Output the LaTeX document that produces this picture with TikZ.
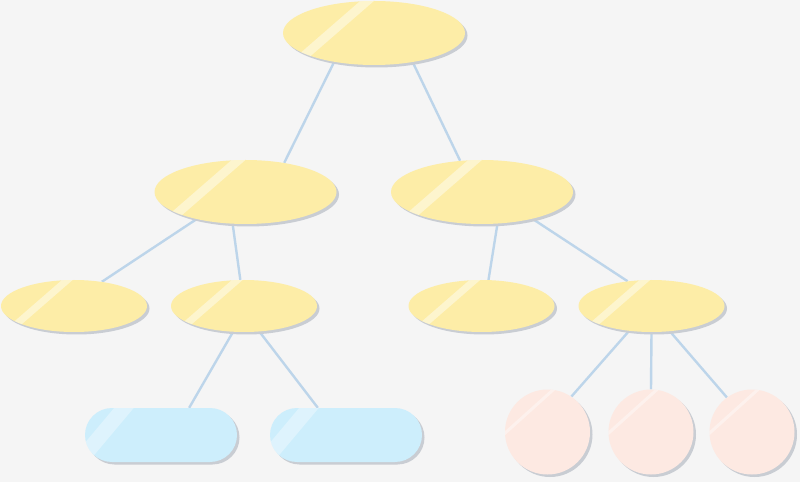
\documentclass[tikz,border=0pt]{standalone}
\usepackage[dvipsnames]{xcolor}
\usetikzlibrary{shapes.geometric, shadows, backgrounds}

\definecolor{bggray}{HTML}{F5F5F5}
\definecolor{nodeyellow}{HTML}{FDEDA7}
\definecolor{nodeblue}{HTML}{CDEEFC}
\definecolor{nodepink}{HTML}{FDE9E2}
\definecolor{linkblue}{HTML}{BDD5EA}
\definecolor{shadowgray}{HTML}{C9CDD3}

% glossy band: x offset, y offset, half width, angle, opacity
\newcommand{\glossband}[5]{%
  \fill[white, opacity=#5] (path picture bounding box.center) ++(#1pt,#2pt)
    ++(#4+90:#3pt) ++(#4:-150pt) -- ++(#4:300pt) -- ++(#4-90:2*#3pt)
    -- ++(#4:-300pt) -- cycle;}

\tikzset{
  blob/.style={draw=none, inner sep=0pt,
    drop shadow={shadow xshift=2.5pt, shadow yshift=-2.5pt, fill=shadowgray, opacity=1}},
  bigoval/.style={blob, ellipse, fill=nodeyellow, minimum width=182pt, minimum height=64pt,
    path picture={\glossband{-38}{5}{4.5}{41}{0.45}}},
  smalloval/.style={blob, ellipse, fill=nodeyellow, minimum width=146pt, minimum height=52pt,
    path picture={\glossband{-32}{4}{3.5}{41}{0.45}}},
  leafpill/.style={blob, rectangle, rounded corners=27pt, fill=nodeblue,
    minimum width=152pt, minimum height=54pt,
    path picture={\glossband{-48}{14}{7.5}{50}{0.35}}},
  leafdot/.style={blob, circle, fill=nodepink, minimum size=85pt,
    path picture={\glossband{-19}{20}{1.5}{42}{0.4}}},
  link/.style={draw=linkblue, line width=2.4pt},
}

\begin{document}
\begin{tikzpicture}[x=1pt, y=1pt]
    % draw background
    \begin{scope}[on background layer]
      \fill[bggray] (0, 0) rectangle (800, 482);
    \end{scope}
    \useasboundingbox (0, 0) rectangle (800, 482);

    % draw top ellipse
    \node[bigoval] (root) at (374, 449) {};

    % draw second row
    \node[bigoval] (midleft)  at (245.5, 290) {};
    \node[bigoval] (midright) at (482, 290) {};

    % draw third row
    \node[smalloval] (lowA) at (74, 176) {};
    \node[smalloval] (lowB) at (244, 176) {};
    \node[smalloval] (lowC) at (481.5, 176) {};
    \node[smalloval] (lowD) at (651.5, 176) {};

    % draw blue pills
    \node[leafpill] (pillA) at (161, 47) {};
    \node[leafpill] (pillB) at (346, 47) {};

    % draw pink circles
    \node[leafdot] (dotA) at (547.5, 50) {};
    \node[leafdot] (dotB) at (651, 50) {};
    \node[leafdot] (dotC) at (752, 50) {};

    % draw links behind the shapes
    \begin{scope}[on background layer]
      \draw[link] (root.216) -- (midleft.37);
      \draw[link] (root.323) -- (midright.125);
      \draw[link] (midleft.209) -- (lowA.41);
      \draw[link] (midleft.248) -- (lowB.98);
      \draw[link] (midright.296) -- (lowC.75);
      \draw[link] (midright.332) -- (lowD.134);
      \draw[link] (lowB.247) -- (pillA.44);
      \draw[link] (lowB.301) -- (pillB.136);
      \draw[link] (lowD.228) -- (dotA.56);
      \draw[link] (lowD.south) -- (dotB.north);
      \draw[link] (lowD.306) -- (dotC.126);
    \end{scope}
\end{tikzpicture}
\end{document}
